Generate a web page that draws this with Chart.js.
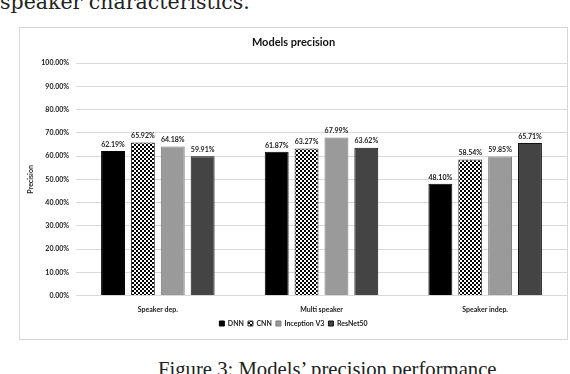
<!DOCTYPE html>
<html>
<head>
<meta charset="utf-8">
<script src="https://cdn.jsdelivr.net/npm/chart.js@4.4.1/dist/chart.umd.min.js"></script>
<style>
  html, body { margin: 0; padding: 0; background: #fff; width: 570px; height: 374px; overflow: hidden; position: relative; }
  .serif { font-family: "Liberation Serif", "DejaVu Serif", serif; color: #222; position: absolute; white-space: nowrap; }
  #top { left: 0; top: -8px; font-family: "DejaVu Serif", serif; font-size: 20.5px; line-height: 20.5px; }
  #cap { left: 158px; top: 358px; font-size: 20.7px; line-height: 22px; }
  #box { position: absolute; left: 19px; top: 27px; width: 547px; height: 311px; border: 1px solid #d6d6d6; }
  #wrap { position: absolute; left: 0; top: 0; width: 547px; height: 311px; }
</style>
</head>
<body>
<div id="top" class="serif">speaker characteristics.</div>
<div id="box"><div id="wrap"><canvas id="c"></canvas></div></div>
<div id="cap" class="serif">Figure 3: Models’ precision performance</div>
<script>
const categories = ["Speaker dep.", "Multi speaker", "Speaker indep."];
const seriesNames = ["DNN", "CNN", "Inception V3", "ResNet50"];
const dnn = [62.19, 61.87, 48.10];
const cnn = [65.92, 63.27, 58.54];
const inception = [64.18, 67.99, 59.85];
const resnet = [59.91, 63.62, 65.71];
const yTicks = [0, 10, 20, 30, 40, 50, 60, 70, 80, 90, 100];

function checker() {
  const t = document.createElement('canvas');
  t.width = 4; t.height = 4;
  const g = t.getContext('2d');
  g.fillStyle = '#000'; g.fillRect(0, 0, 4, 4);
  g.fillStyle = '#fff'; g.fillRect(0, 0, 2, 2); g.fillRect(2, 2, 2, 2);
  return g.createPattern(t, 'repeat');
}
const ctx = document.getElementById('c').getContext('2d');
const pat = checker();

const labelPlugin = {
  id: 'vals',
  afterDatasetsDraw(chart) {
    const c = chart.ctx;
    c.save();
    c.font = 'bold 7px Lato, "Open Sans", sans-serif';
    c.fillStyle = '#222';
    c.textAlign = 'center';
    c.textBaseline = 'bottom';
    chart.data.datasets.forEach((ds, i) => {
      chart.getDatasetMeta(i).data.forEach((bar, j) => {
        c.fillText(ds.data[j].toFixed(2) + '%', bar.x, bar.y - 3);
      });
    });
    c.restore();
  }
};

const font = { family: 'Lato, "Open Sans", sans-serif', size: 7, weight: 'bold' };

new Chart(ctx, {
  type: 'bar',
  data: {
    labels: categories,
    datasets: [
      { label: seriesNames[0], data: dnn, backgroundColor: '#000', borderColor: '#000', borderWidth: 1 },
      { label: seriesNames[1], data: cnn, backgroundColor: pat, borderColor: '#333', borderWidth: 1 },
      { label: seriesNames[2], data: inception, backgroundColor: '#9a9a9a', borderColor: '#7a7a7a', borderWidth: 1 },
      { label: seriesNames[3], data: resnet, backgroundColor: '#444', borderColor: '#111', borderWidth: 1 }
    ]
  },
  options: {
    responsive: true,
    maintainAspectRatio: false,
    animation: false,
    devicePixelRatio: 1,
    layout: { padding: { left: 0, right: 0, top: 0, bottom: 2 } },
    datasets: { bar: { categoryPercentage: 0.73, barPercentage: 0.8 } },
    plugins: {
      title: { display: true, text: 'Models precision', color: '#111',
        font: { family: 'Lato, "Open Sans", sans-serif', size: 11, weight: 'bold' },
        padding: { top: 8, bottom: 14 } },
      legend: { position: 'bottom',
        labels: { boxWidth: 5, boxHeight: 5, padding: 4, color: '#222', font: font } },
      tooltip: { enabled: false }
    },
    scales: {
      x: {
        grid: { display: false },
        border: { display: false },
        ticks: { color: '#222', font: font, padding: 2 }
      },
      y: {
        min: 0, max: 100,
        afterBuildTicks(s) { s.ticks = yTicks.map(v => ({ value: v })); },
        afterFit(s) { s.width = 56; },
        grid: { color: '#d9d9d9', lineWidth: 1, drawTicks: false },
        border: { display: false },
        title: { display: true, text: 'Precision', color: '#222', font: font, padding: { top: 7, bottom: 0 } },
        ticks: { color: '#222', font: font, padding: 7, callback: v => v.toFixed(2) + '%' }
      }
    }
  },
  plugins: [labelPlugin]
});
</script>
</body>
</html>
